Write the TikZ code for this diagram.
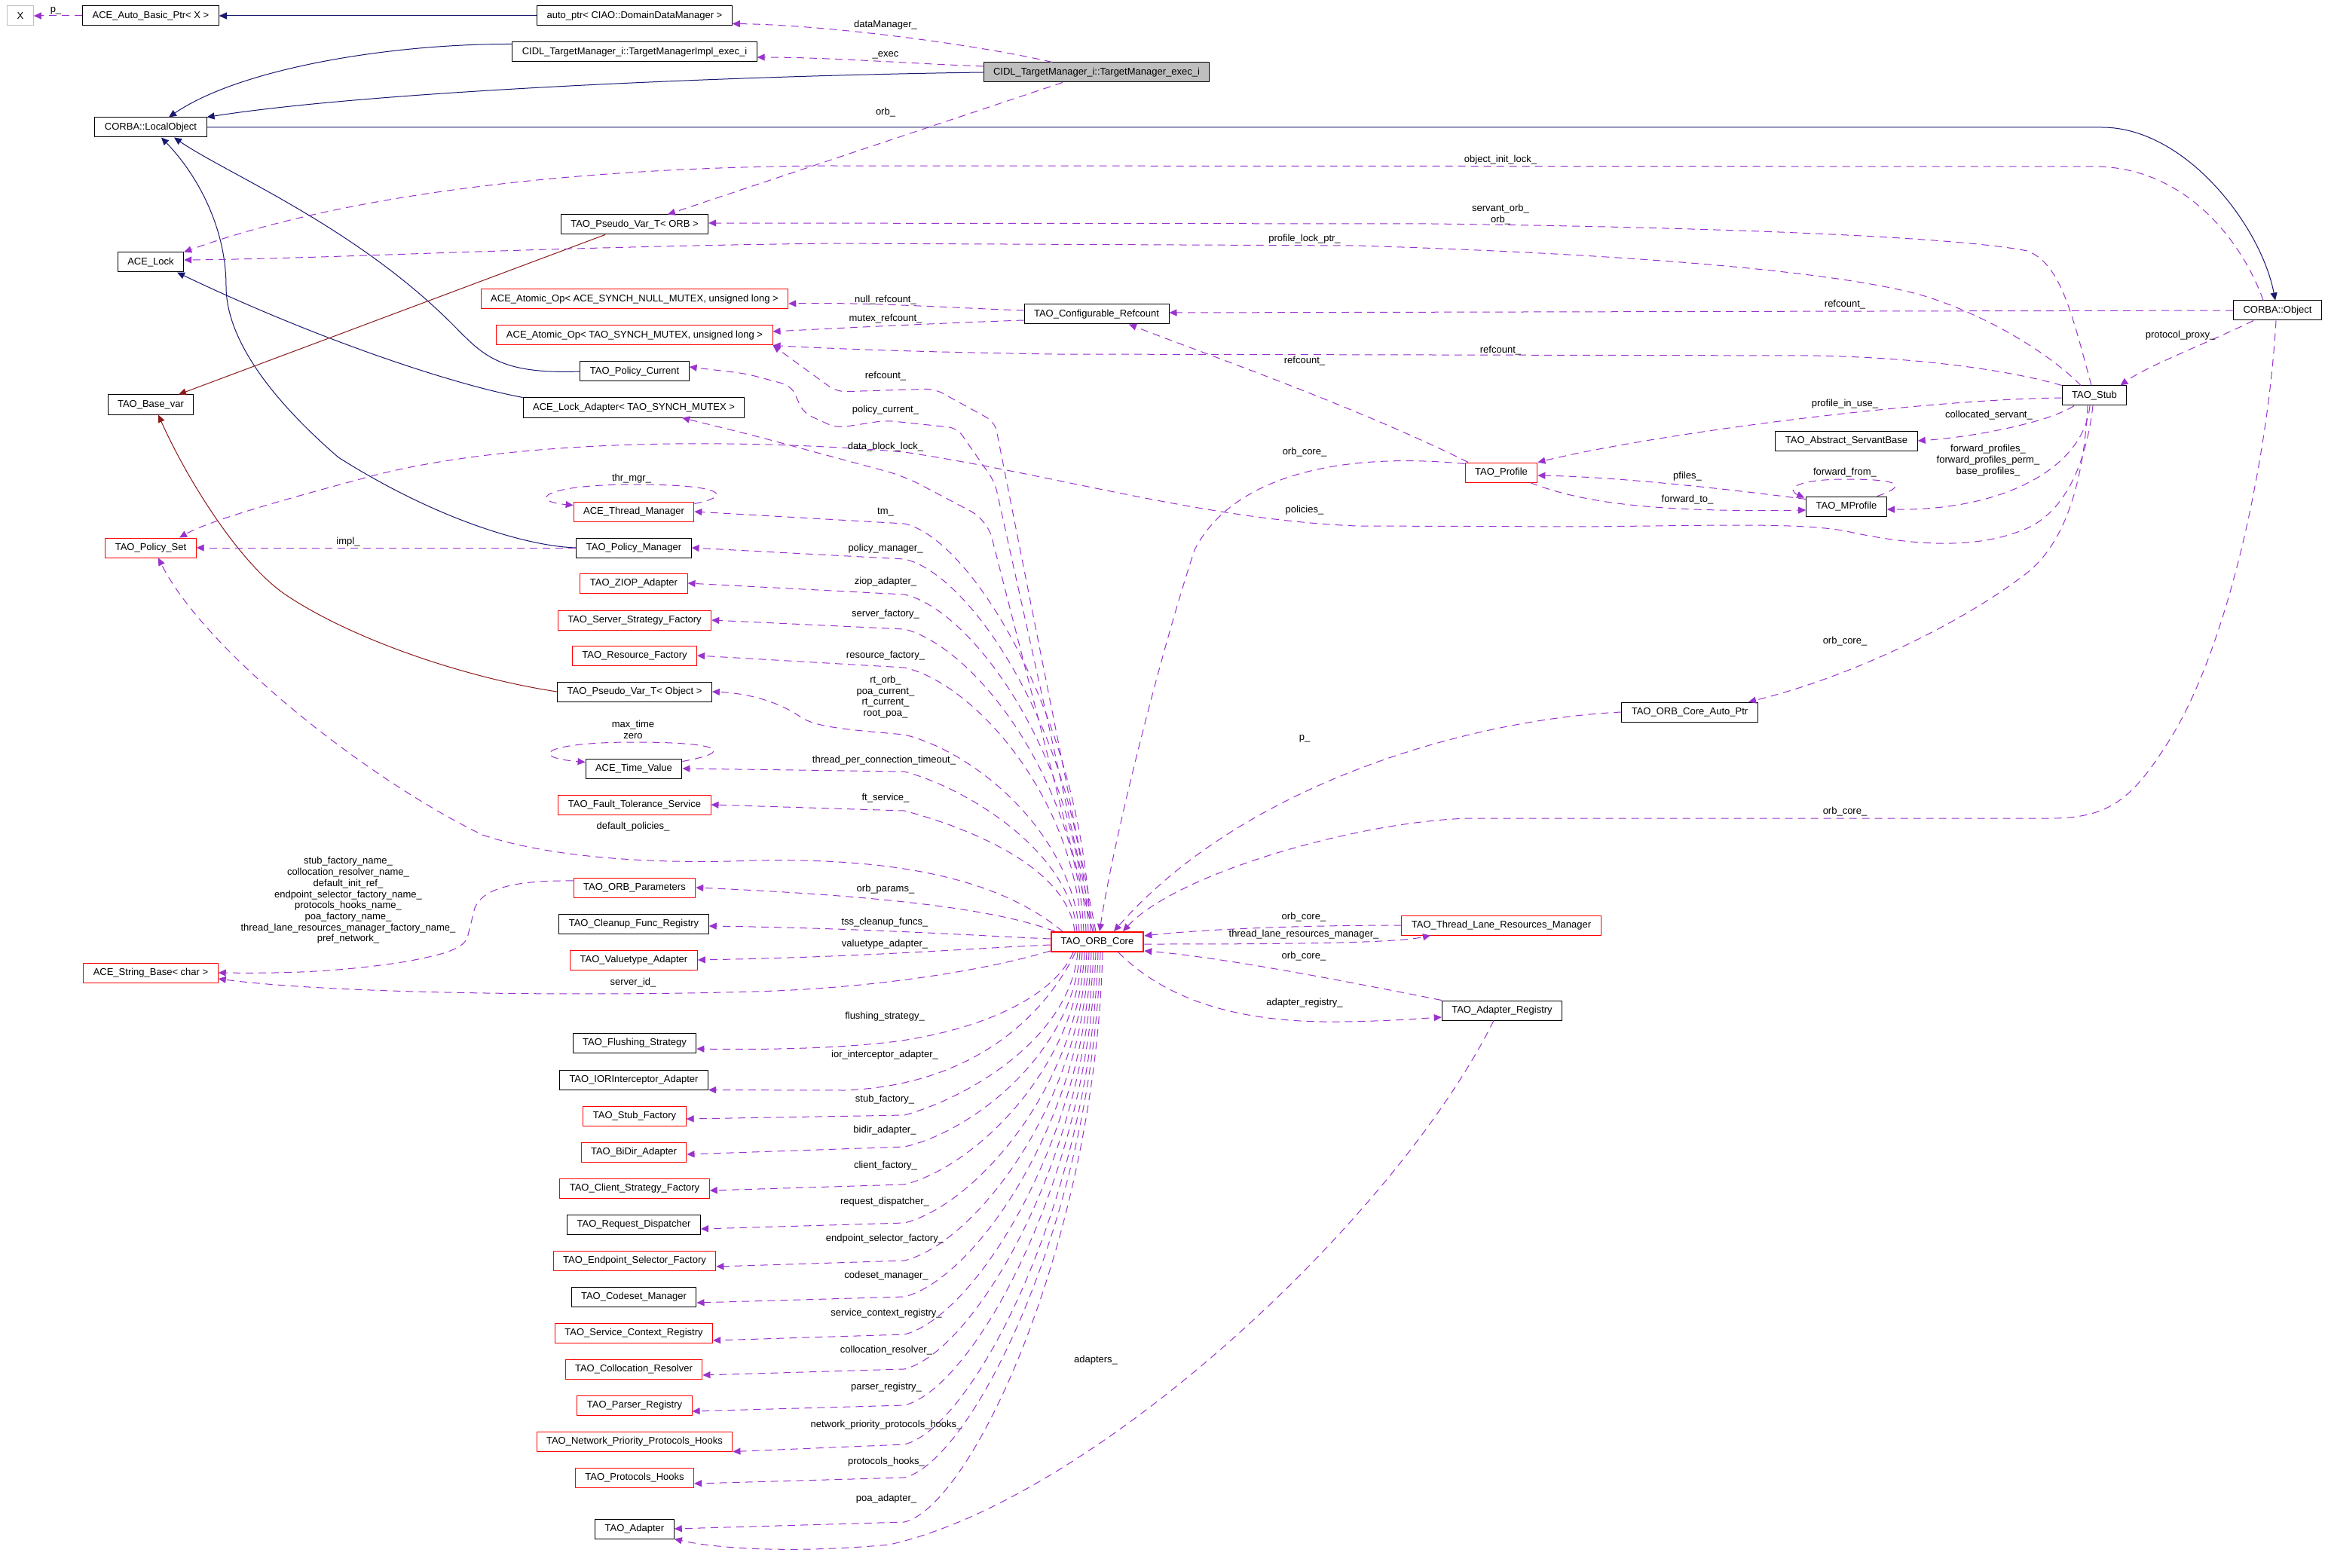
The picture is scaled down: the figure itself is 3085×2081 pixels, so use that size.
\documentclass[tikz,border=0pt]{standalone}
\usepackage{fontspec}
\setmainfont{Liberation Sans}
\usetikzlibrary{arrows.meta}
\definecolor{inhblue}{HTML}{191970}
\definecolor{usepurple}{HTML}{9A32CD}
\definecolor{privred}{HTML}{8B1A1A}
\definecolor{mainfill}{HTML}{BFBFBF}
\definecolor{greyb}{HTML}{BFBFBF}
\begin{document}
\begin{tikzpicture}[x=0.5pt,y=-0.5pt,
  every node/.style={font=\fontsize{6.5}{7.35}\selectfont},
  nbox/.style={draw=black, line width=0.5pt, fill=white, minimum height=13pt, inner xsep=6.5pt, inner ysep=1pt},
  rnbox/.style={nbox, draw=red},
  lbl/.style={inner sep=0.5pt, align=center},
  inh/.style={draw=inhblue, line width=0.5pt, -{Triangle[length=5pt,width=4.5pt]}},
  prv/.style={draw=privred, line width=0.5pt, -{Triangle[length=5pt,width=4.5pt]}},
  usedge/.style={draw=usepurple, line width=0.5pt, dash pattern=on 5pt off 3.5pt, -{Triangle[length=5pt,width=4.5pt]}},
]
\fill[white] (0,0) rectangle (3085,2081);
\useasboundingbox (0,0) rectangle (3085,2081);

% ---------------- nodes ----------------
\node[nbox, draw=greyb] (x) at (27,21) {X};
\node[nbox] (abp) at (200,21) {ACE\_Auto\_Basic\_Ptr< X >};
\node[nbox] (autoptr) at (842,21) {auto\_ptr< CIAO::DomainDataManager >};
\node[nbox] (implexec) at (842,69) {CIDL\_TargetManager\_i::TargetManagerImpl\_exec\_i};
\node[nbox, fill=mainfill] (exec) at (1455,96) {CIDL\_TargetManager\_i::TargetManager\_exec\_i};
\node[nbox] (lo) at (200,169) {CORBA::LocalObject};
\node[nbox] (pvorb) at (842,298) {TAO\_Pseudo\_Var\_T< ORB >};
\node[nbox] (acelock) at (200,348) {ACE\_Lock};
\node[rnbox] (atomicnull) at (842,397) {ACE\_Atomic\_Op< ACE\_SYNCH\_NULL\_MUTEX, unsigned long >};
\node[rnbox] (atomictao) at (842,445) {ACE\_Atomic\_Op< TAO\_SYNCH\_MUTEX, unsigned long >};
\node[nbox] (pc) at (842,493) {TAO\_Policy\_Current};
\node[nbox] (la) at (841,541) {ACE\_Lock\_Adapter< TAO\_SYNCH\_MUTEX >};
\node[nbox] (basevar) at (200,537) {TAO\_Base\_var};
\node[rnbox] (tmg) at (841,679) {ACE\_Thread\_Manager};
\node[rnbox] (ps) at (200,727) {TAO\_Policy\_Set};
\node[nbox] (pm) at (841,727) {TAO\_Policy\_Manager};
\node[rnbox] (ziop) at (841,774) {TAO\_ZIOP\_Adapter};
\node[rnbox] (ssf) at (842,823) {TAO\_Server\_Strategy\_Factory};
\node[rnbox] (rf) at (842,870) {TAO\_Resource\_Factory};
\node[nbox] (pvobj) at (842,918) {TAO\_Pseudo\_Var\_T< Object >};
\node[nbox] (tv) at (841,1020) {ACE\_Time\_Value};
\node[rnbox] (fts) at (842,1068) {TAO\_Fault\_Tolerance\_Service};
\node[rnbox] (op) at (842,1178) {TAO\_ORB\_Parameters};
\node[nbox] (cfr) at (841,1226) {TAO\_Cleanup\_Func\_Registry};
\node[rnbox] (va) at (841,1274) {TAO\_Valuetype\_Adapter};
\node[rnbox] (sb) at (200,1291) {ACE\_String\_Base< char >};
\node[nbox] (fs) at (842,1384) {TAO\_Flushing\_Strategy};
\node[nbox] (ior) at (841,1433) {TAO\_IORInterceptor\_Adapter};
\node[rnbox] (sf) at (842,1481) {TAO\_Stub\_Factory};
\node[rnbox] (bd) at (841,1529) {TAO\_BiDir\_Adapter};
\node[rnbox] (csf) at (842,1577) {TAO\_Client\_Strategy\_Factory};
\node[nbox] (rd) at (841,1625) {TAO\_Request\_Dispatcher};
\node[rnbox] (esf) at (842,1673) {TAO\_Endpoint\_Selector\_Factory};
\node[nbox] (cm) at (841,1721) {TAO\_Codeset\_Manager};
\node[rnbox] (scr) at (841,1769) {TAO\_Service\_Context\_Registry};
\node[rnbox] (cr) at (841,1817) {TAO\_Collocation\_Resolver};
\node[rnbox] (prg) at (842,1865) {TAO\_Parser\_Registry};
\node[rnbox] (npph) at (842,1913) {TAO\_Network\_Priority\_Protocols\_Hooks};
\node[rnbox] (ph) at (842,1961) {TAO\_Protocols\_Hooks};
\node[nbox] (ad) at (842,2029) {TAO\_Adapter};
\node[nbox] (confref) at (1455,417) {TAO\_Configurable\_Refcount};
\node[rnbox] (prof) at (1992,627) {TAO\_Profile};
\node[rnbox, line width=1pt] (core) at (1456,1250) {TAO\_ORB\_Core};
\node[rnbox] (tlrm) at (1992,1228) {TAO\_Thread\_Lane\_Resources\_Manager};
\node[nbox] (ar) at (1993,1341) {TAO\_Adapter\_Registry};
\node[nbox] (oap) at (2242,945) {TAO\_ORB\_Core\_Auto\_Ptr};
\node[nbox] (obj) at (3022,412) {CORBA::Object};
\node[nbox] (stub) at (2779,525) {TAO\_Stub};
\node[nbox] (asb) at (2450,585) {TAO\_Abstract\_ServantBase};
\node[nbox] (mp) at (2450,672) {TAO\_MProfile};

% ---------------- inheritance ----------------
\draw[inh] (autoptr.west) -- (abp.east);
\draw[inh] ([yshift=-1.5pt]implexec.north west) .. controls (520,58) and (320,90) .. ([xshift=12pt]lo.north);
\draw[inh] (exec.west) .. controls (1000,100) and (500,120) .. (lo.north east);
\draw[inh] (lo.east) -- (2789,169) .. controls (2900,169) and (3000,300) .. ([xshift=-1.5pt]obj.north);
\draw[inh] (pc.west) .. controls (660,497) and (640,470) .. (600,430) .. controls (470,300) and (300,230) .. ([xshift=15.5pt]lo.south);
\draw[inh] (pm.west) .. controls (700,725) and (580,690) .. (449,607) .. controls (360,530) and (300,450) .. (300,380) .. controls (300,300) and (260,230) .. ([xshift=7pt]lo.south);
\draw[inh] (la.north west) .. controls (600,510) and (420,450) .. ([xshift=17.5pt]acelock.south);
\draw[prv] ([xshift=-19.5pt]pvorb.south) -- ([xshift=18.5pt]basevar.north);
\draw[prv] (pvobj.west) .. controls (620,900) and (470,850) .. (380,790) .. controls (320,750) and (250,640) .. ([xshift=5pt]basevar.south);

% ---------------- usage: top ----------------
\draw[usedge] (abp.west) -- (x.east);
\node[lbl] (l_p) at (74,14) {p\_};
\draw[usedge] ([xshift=-29.5pt]exec.north) .. controls (1300,60) and (1100,33) .. ([yshift=1.5pt]autoptr.south east);
\node[lbl] (l_dm) at (1175,33) {dataManager\_};
\draw[usedge] ([yshift=4pt]exec.west) .. controls (1200,84) and (1100,76) .. ([yshift=-3.5pt]implexec.east);
\node[lbl] (l_exec) at (1175,73) {\_exec};
\draw[usedge] ([xshift=-22.5pt]exec.south) -- ([xshift=22pt]pvorb.north);
\node[lbl] (l_orb1) at (1175,149) {orb\_};

% ---------------- usage: CORBA::Object / Stub ----------------
\draw[usedge] ([xshift=-9.5pt]obj.north) .. controls (2975,320) and (2900,222) .. (2780,221) -- (1100,220) .. controls (750,222) and (450,260) .. (acelock.north east);
\node[lbl] (l_oil) at (1991,212) {object\_init\_lock\_};
\draw[usedge] ([xshift=-2pt]stub.north) .. controls (2750,420) and (2735,350) .. (2690,333) .. controls (2600,315) and (2300,302) .. (1900,297) -- ([yshift=1pt]pvorb.east);
\node[lbl] (l_sorb) at (1991,284.5) {servant\_orb\_\\orb\_};
\draw[usedge] ([xshift=-9pt]stub.north) .. controls (2720,470) and (2640,420) .. (2554,393) .. controls (2470,368) and (2250,340) .. (1800,326) -- (1100,323) .. controls (700,328) and (450,343) .. ([yshift=1.5pt]acelock.east);
\node[lbl] (l_plp) at (1731,317) {profile\_lock\_ptr\_};
\draw[usedge] (obj.west) -- ([yshift=1pt]confref.east);
\node[lbl] (l_rc1) at (2448,404) {refcount\_};
\draw[usedge] ([xshift=-16pt]obj.south) .. controls (2930,455) and (2850,485) .. ([xshift=-4.5pt]stub.north east);
\node[lbl] (l_pp) at (2893,445) {protocol\_proxy\_};
\draw[usedge] ([yshift=2.5pt]confref.west) .. controls (1250,408) and (1150,401) .. ([yshift=-3pt]atomicnull.east);
\node[lbl] (l_nrc) at (1175,398) {null\_refcount\_};
\draw[usedge] ([yshift=-4pt]confref.west) .. controls (1270,428) and (1140,434) .. ([yshift=2.5pt]atomictao.east);
\node[lbl] (l_mrc) at (1175,423) {mutex\_refcount\_};
\draw[usedge] (stub.north west) .. controls (2680,495) and (2560,474) .. (2400,472) -- (1400,470) .. controls (1200,467) and (1090,462) .. (atomictao.south east);
\node[lbl] (l_rc2) at (1991,465) {refcount\_};
\draw[usedge] ([xshift=-22pt]prof.north) .. controls (1800,540) and (1600,470) .. ([xshift=21.5pt]confref.south);
\node[lbl] (l_rc3) at (1731,479) {refcount\_};
\draw[usedge] ([yshift=-1.5pt]stub.west) .. controls (2550,530) and (2200,575) .. (prof.north east);
\node[lbl] (l_piu) at (2448,536) {profile\_in\_use\_};
\draw[usedge] ([xshift=-13.5pt]stub.south) .. controls (2720,560) and (2620,580) .. (asb.east);
\node[lbl] (l_cs) at (2639,551) {collocated\_servant\_};
\draw[usedge] ([xshift=-3pt]stub.south) .. controls (2765,620) and (2660,678) .. ([yshift=-2pt]mp.east);
\node[lbl] (l_fp) at (2638,611) {forward\_profiles\_\\forward\_profiles\_perm\_\\base\_profiles\_};
\draw[usedge] ([xshift=-6.5pt]mp.north east) .. controls (2530,645) and (2525,636) .. (2450,636) .. controls (2380,636) and (2370,650) .. ([xshift=-1pt,yshift=-1pt]mp.north west);
\node[lbl] (l_ff) at (2448,627) {forward\_from\_};
\draw[usedge] ([yshift=-2pt]mp.north west) .. controls (2300,650) and (2150,633) .. ([yshift=-2pt]prof.east);
\node[lbl] (l_pf) at (2239,632) {pfiles\_};
\draw[usedge] ([xshift=-5pt]prof.south east) .. controls (2100,668) and (2200,680) .. ([yshift=-2.5pt]mp.west);
\node[lbl] (l_ft) at (2239,663) {forward\_to\_};
\draw[usedge] ([xshift=-4.5pt]stub.south) .. controls (2765,640) and (2740,720) .. (2690,760) .. controls (2600,830) and (2450,900) .. ([xshift=39pt]oap.north);
\node[lbl] (l_oc1) at (2448,851) {orb\_core\_};
\draw[usedge] ([xshift=-1pt]stub.south) .. controls (2765,640) and (2725,690) .. (2680,705) .. controls (2620,728) and (2540,725) .. (2450,705) .. controls (2390,694) and (2300,697) .. (2100,699) -- (1800,698) .. controls (1600,690) and (1400,630) .. (1200,600) .. controls (1000,583) and (700,580) .. (500,630) .. controls (380,662) and (280,690) .. ([xshift=19pt]ps.north);
\node[lbl] (l_pol) at (1731,677) {policies\_};

% ---------------- usage: into ORB core ----------------
\draw[usedge] ([yshift=-1pt]prof.north west) .. controls (1760,598) and (1630,640) .. (1585,730) .. controls (1545,850) and (1480,1100) .. ([xshift=1.5pt]core.north);
\node[lbl] (l_oc2) at (1731,600) {orb\_core\_};
\draw[usedge] (oap.west) .. controls (1950,955) and (1650,1040) .. ([xshift=11pt]core.north);
\node[lbl] (l_p2) at (1731,980) {p\_};
\draw[usedge] ([xshift=-1pt]obj.south) .. controls (3010,600) and (2960,850) .. (2880,980) .. controls (2830,1060) and (2800,1086) .. (2720,1086) -- (1950,1086) .. controls (1800,1090) and (1560,1160) .. ([xshift=17pt]core.north);
\node[lbl] (l_oc3) at (2448,1077) {orb\_core\_};
\draw[usedge] (tlrm.west) .. controls (1700,1228) and (1580,1235) .. ([yshift=4pt]core.east);
\node[lbl] (l_oc4) at (1730,1217) {orb\_core\_};
\draw[usedge] ([yshift=-1.5pt]core.east) .. controls (1700,1253) and (1850,1252) .. ([xshift=-47pt]tlrm.south);
\node[lbl] (l_tlrm) at (1730,1240) {thread\_lane\_resources\_manager\_};
\draw[usedge] (ar.north west) .. controls (1800,1305) and (1620,1270) .. ([yshift=-6pt]core.east);
\node[lbl] (l_oc5) at (1730,1269) {orb\_core\_};
\draw[usedge] ([xshift=14pt]core.south) .. controls (1550,1330) and (1650,1358) .. (1780,1356) .. controls (1850,1355) and (1880,1352) .. ([yshift=-4.5pt]ar.west);
\node[lbl] (l_ar) at (1731,1331) {adapter\_registry\_};
\draw[usedge] ([xshift=-5.5pt]ar.south) .. controls (1850,1620) and (1450,1990) .. (1180,2050) .. controls (1050,2062) and (950,2055) .. (ad.south east);
\node[lbl] (l_ads) at (1454,1805) {adapters\_};

% ---------------- usage: ORB core fan (upper) ----------------
\draw[usedge, rounded corners=6pt] ([xshift=-1pt]core.north) -- (1320,560) -- (1240,516) -- (1110,520) -- (atomictao.south east);
\node[lbl] (l_rc4) at (1175,499) {refcount\_};
\draw[usedge, rounded corners=6pt] ([xshift=-2pt]core.north) -- (1320,640) -- (1270,568) -- (1175,558) -- (1110,568) -- (1066,548) -- (1050,512) -- (990,496) -- ([yshift=3pt]pc.east);
\node[lbl] (l_pcur) at (1175,544) {policy\_current\_};
\draw[usedge, rounded corners=12pt] ([xshift=-3pt]core.north) -- (1310,690) -- (1200,632) -- (1000,578) -- ([xshift=32pt]la.south);
\node[lbl] (l_dbl) at (1175,593) {data\_block\_lock\_};
\draw[usedge] ([xshift=-4.5pt]core.north) .. controls (1437,958) and (1290,715) .. (1200,695) -- (tmg.east);
\node[lbl] (l_tm) at (1175,680) {tm\_};
\draw[usedge] ([xshift=-6pt]core.north) .. controls (1434,982) and (1290,762) .. (1200,742) -- (pm.east);
\node[lbl] (l_pmg) at (1175,728) {policy\_manager\_};
\draw[usedge] ([xshift=-7.5pt]core.north) .. controls (1431,1005) and (1290,809) .. (1200,789) -- (ziop.east);
\node[lbl] (l_ziop) at (1175,772) {ziop\_adapter\_};
\draw[usedge] ([xshift=-9pt]core.north) .. controls (1428,1030) and (1290,857) .. (1200,835) -- (ssf.east);
\node[lbl] (l_sf) at (1175,815) {server\_factory\_};
\draw[usedge] ([xshift=-10.5pt]core.north) .. controls (1425,1054) and (1290,906) .. (1200,886) -- (rf.east);
\node[lbl] (l_rf) at (1175,870) {resource\_factory\_};
\draw[usedge] ([xshift=-12pt]core.north) .. controls (1422,1110) and (1300,1000) .. (1200,975) .. controls (1120,968) and (1080,965) .. (1060,950) .. controls (1030,930) and (990,920) .. (pvobj.east);
\node[lbl] (l_rt) at (1175,925) {rt\_orb\_\\poa\_current\_\\rt\_current\_\\root\_poa\_};
\draw[usedge] ([xshift=-13.5pt]core.north) .. controls (1419,1128) and (1280,1045) .. (1200,1024) -- (tv.east);
\node[lbl] (l_tpc) at (1173,1009) {thread\_per\_connection\_timeout\_};
\draw[usedge] ([xshift=-15pt]core.north) .. controls (1416,1152) and (1290,1100) .. (1200,1076) -- (fts.east);
\node[lbl] (l_fts) at (1175,1059) {ft\_service\_};
\draw[usedge] ([xshift=8pt]core.north west) .. controls (1330,1170) and (1200,1138) .. (1000,1142) .. controls (850,1148) and (720,1135) .. (640,1108) .. controls (480,1030) and (270,860) .. ([xshift=5pt]ps.south);
\node[lbl] (l_dp) at (840,1097) {default\_policies\_};
\draw[usedge] ([xshift=3pt]core.north west) .. controls (1330,1210) and (1200,1190) .. (op.east);
\node[lbl] (l_op) at (1175,1180) {orb\_params\_};

% ---------------- self loops ----------------
\draw[usedge] ([yshift=-1.5pt]tmg.north east) .. controls (975,658) and (960,643) .. (841,643) .. controls (720,643) and (700,665) .. ([yshift=-2.5pt]tmg.north west);
\node[lbl] (l_thr) at (838,635) {thr\_mgr\_};
\draw[usedge] ([yshift=-2pt]tv.north east) .. controls (975,998) and (960,985) .. (841,985) .. controls (720,985) and (700,1005) .. ([yshift=-2.5pt]tv.north west);
\node[lbl] (l_mt) at (840,968.5) {max\_time\\zero};

% ---------------- left column misc ----------------
\draw[usedge] (pm.west) -- (ps.east);
\node[lbl] (l_impl) at (462,719) {impl\_};
\draw[usedge] ([yshift=4.5pt]op.west) .. controls (680,1168) and (640,1180) .. (630,1205) -- (620,1245) .. controls (612,1262) and (580,1268) .. (540,1276) .. controls (450,1290) and (380,1292) .. (sb.east);
\node[lbl] (l_names) at (462,1195) {stub\_factory\_name\_\\collocation\_resolver\_name\_\\default\_init\_ref\_\\endpoint\_selector\_factory\_name\_\\protocols\_hooks\_name\_\\poa\_factory\_name\_\\thread\_lane\_resources\_manager\_factory\_name\_\\pref\_network\_};

% ---------------- ORB core west side ----------------
\draw[usedge] ([yshift=2pt]core.west) .. controls (1300,1242) and (1150,1232) .. ([yshift=-1.5pt]cfr.east);
\node[lbl] (l_tss) at (1174,1224) {tss\_cleanup\_funcs\_};
\draw[usedge] ([yshift=-2pt]core.west) .. controls (1300,1258) and (1150,1270) .. (va.east);
\node[lbl] (l_va) at (1174,1253) {valuetype\_adapter\_};
\draw[usedge] ([yshift=-6pt]core.west) .. controls (1300,1290) and (1150,1312) .. (1000,1316) .. controls (800,1322) and (450,1320) .. ([yshift=-4pt]sb.east);
\node[lbl] (l_sid) at (840,1304) {server\_id\_};

% ---------------- ORB core fan (lower) ----------------
\draw[usedge] ([xshift=-16pt]core.south) .. controls (1400,1320) and (1310,1365) .. (1190,1382) .. controls (1100,1393) and (1000,1393) .. ([yshift=-4pt]fs.east);
\node[lbl] (l_fs) at (1174,1349) {flushing\_strategy\_};
\draw[usedge] ([xshift=-14.5pt]core.south) .. controls (1390,1340) and (1300,1440) .. (1120,1447) -- (ior.south east);
\node[lbl] (l_ior) at (1174,1400) {ior\_interceptor\_adapter\_};
\draw[usedge] ([xshift=-13pt]core.south) .. controls (1420,1375) and (1290,1455) .. (1200,1480) -- ([yshift=-2pt]sf.east);
\node[lbl] (l_stf) at (1174,1459) {stub\_factory\_};
\draw[usedge] ([xshift=-11.5pt]core.south) .. controls (1423,1398) and (1290,1502) .. (1200,1522) -- ([yshift=-1.5pt]bd.east);
\node[lbl] (l_bd) at (1174,1500) {bidir\_adapter\_};
\draw[usedge] ([xshift=-10pt]core.south) .. controls (1426,1422) and (1290,1550) .. (1200,1572) -- ([yshift=-1.5pt]csf.east);
\node[lbl] (l_cf) at (1175,1547) {client\_factory\_};
\draw[usedge] ([xshift=-8.5pt]core.south) .. controls (1429,1448) and (1290,1601) .. (1200,1623) -- ([yshift=-3pt]rd.east);
\node[lbl] (l_rd) at (1174,1595) {request\_dispatcher\_};
\draw[usedge] ([xshift=-7pt]core.south) .. controls (1432,1472) and (1290,1651) .. (1200,1673) -- ([yshift=-4pt]esf.east);
\node[lbl] (l_esf) at (1174,1644) {endpoint\_selector\_factory\_};
\draw[usedge] ([xshift=-5.5pt]core.south) .. controls (1435,1496) and (1290,1699) .. (1200,1721) -- ([yshift=-4pt]cm.east);
\node[lbl] (l_cm) at (1176,1693) {codeset\_manager\_};
\draw[usedge] ([xshift=-4pt]core.south) .. controls (1438,1521) and (1290,1749) .. (1200,1771) -- ([yshift=-5pt]scr.east);
\node[lbl] (l_scr) at (1176,1743) {service\_context\_registry\_};
\draw[usedge] ([xshift=-2.5pt]core.south) .. controls (1441,1545) and (1290,1795) .. (1200,1817) -- ([yshift=-4pt]cr.east);
\node[lbl] (l_cr) at (1176,1792) {collocation\_resolver\_};
\draw[usedge] ([xshift=-1pt]core.south) .. controls (1444,1568) and (1290,1843) .. (1200,1865) -- ([yshift=-4pt]prg.east);
\node[lbl] (l_prg) at (1176,1841) {parser\_registry\_};
\draw[usedge] ([xshift=0.5pt]core.south) .. controls (1447,1594) and (1290,1895) .. (1200,1917) -- (npph.south east);
\node[lbl] (l_npph) at (1176,1891) {network\_priority\_protocols\_hooks\_};
\draw[usedge] ([xshift=2pt]core.south) .. controls (1450,1616) and (1290,1939) .. (1200,1961) -- ([yshift=-4pt]ph.east);
\node[lbl] (l_ph) at (1176,1940) {protocols\_hooks\_};
\draw[usedge] ([xshift=3.5pt]core.south) .. controls (1453,1646) and (1290,1998) .. (1200,2020) -- (ad.east);
\node[lbl] (l_poa) at (1176,1989) {poa\_adapter\_};
\end{tikzpicture}
\end{document}
